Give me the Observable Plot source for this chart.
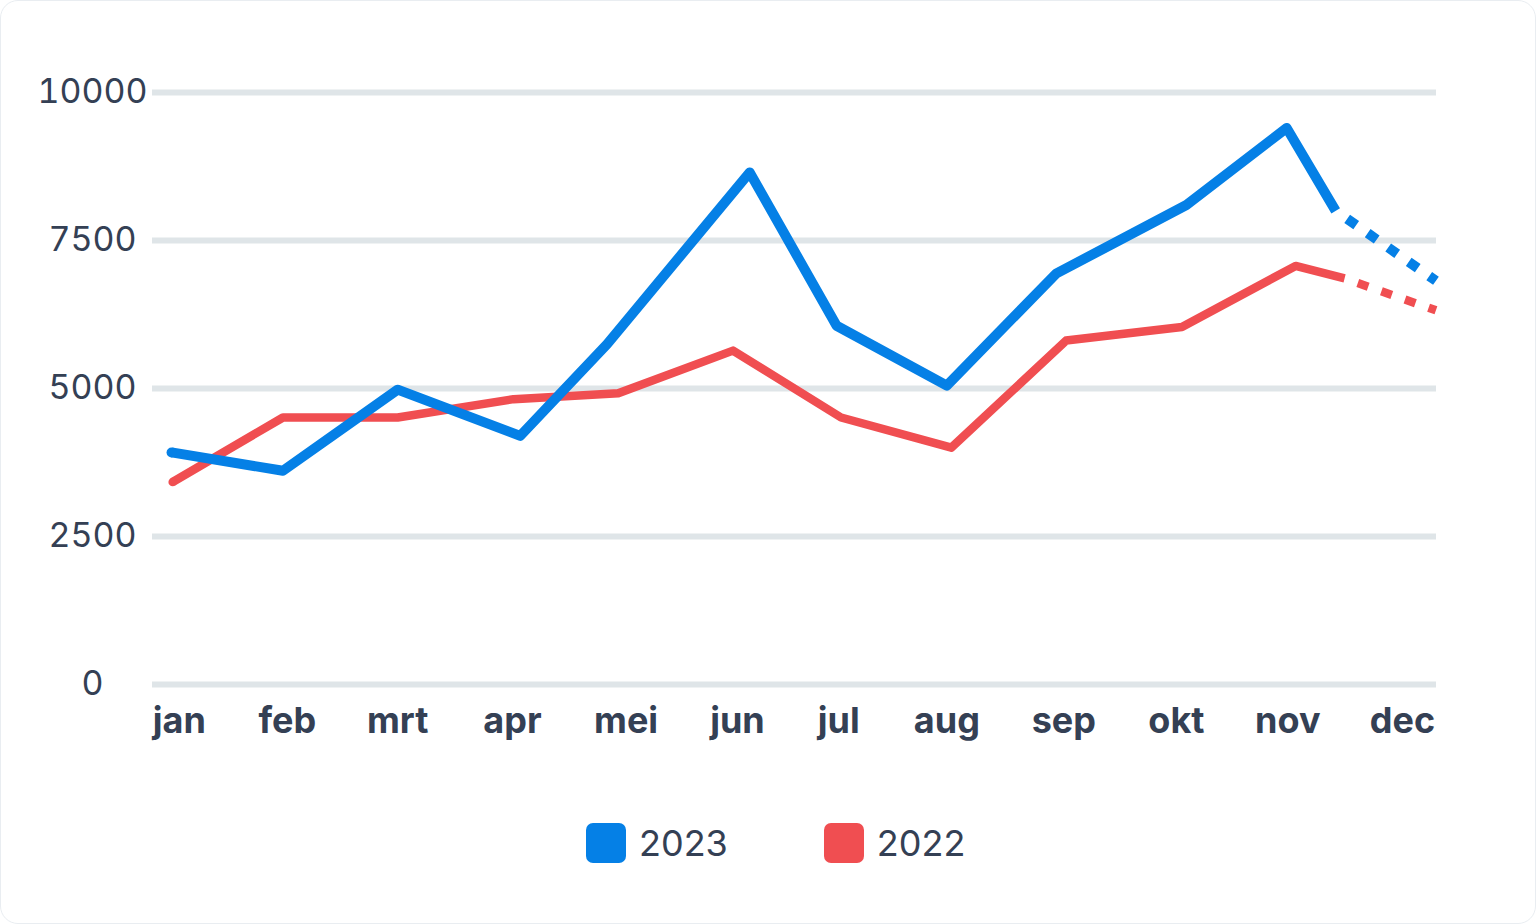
<!DOCTYPE html>
<html>
<head>
<meta charset="utf-8">
<script src="https://cdn.jsdelivr.net/npm/d3@7"></script>
<script src="https://cdn.jsdelivr.net/npm/@observablehq/plot@0.6"></script>
<style>
  html, body { margin: 0; padding: 0; background: #ffffff; }
  #wrap { position: relative; width: 1536px; height: 924px; background: #ffffff; font-family: Inter, "Noto Sans", sans-serif; overflow: hidden; }
  #frame { position: absolute; inset: 0; border: 1px solid #e9edf1; border-radius: 18px; pointer-events: none; }
  #chart { position: absolute; left: 0; top: 0; }
  #legend { position: absolute; top: 823px; left: 586px; display: flex; align-items: center; }
  .item { display: flex; align-items: center; }
  .sw { width: 40px; height: 40px; border-radius: 7px; margin-right: 13px; }
  .lbl { font-size: 36px; color: #344054; line-height: 40px; }
</style>
</head>
<body>
<div id="wrap">
  <div id="chart"></div>
  <div id="legend"></div>
  <div id="frame"></div>
</div>
<script>
// ---- data ----
const months = ["jan", "feb", "mrt", "apr", "mei", "jun", "jul", "aug", "sep", "okt", "nov", "dec"];
// label positions along the x axis (month units), as laid out in the picture
const monthTickPos = [0.01, 0.98, 1.97, 3.00, 4.02, 5.02, 5.93, 6.90, 7.95, 8.96, 9.96, 10.99];
const yTicks = [0, 2500, 5000, 7500, 10000];

const seriesNames = ["2023", "2022"];
const seriesColors = ["#0580e6", "#f04e51"];

// x positions in month units (0 = jan ... 11 = dec)
const pos2023 = [-0.06, 0.94, 1.97, 3.07, 3.85, 5.13, 5.91, 6.90, 7.88, 9.05, 9.95, 10.39, 11.29];
const val2023 = [3920, 3610, 4980, 4200, 5750, 8650, 6060, 5050, 6940, 8100, 9400, 8000, 6820];

const pos2022 = [-0.05, 0.94, 1.97, 3.01, 3.95, 4.98, 5.95, 6.94, 7.97, 9.01, 10.03, 10.47, 11.29];
const val2022 = [3420, 4510, 4510, 4820, 4920, 5640, 4510, 4000, 5810, 6040, 7070, 6860, 6320];

// index where the dotted (projected) part begins
const split2023 = 11;
const split2022 = 11;

// ---- build ----
function rows(pos, val) { return pos.map((p, i) => ({x: p, y: val[i]})); }
const r23 = rows(pos2023, val2023);
const r22 = rows(pos2022, val2022);

const solid23 = r23.slice(0, split2023 + 1), dash23 = r23.slice(split2023);
const solid22 = r22.slice(0, split2022 + 1), dash22 = r22.slice(split2022);

const blue = seriesColors[0], red = seriesColors[1];
const wBlue = 10, wRed = 8.5;

const chart = Plot.plot({
  width: 1536,
  height: 780,
  marginLeft: 152,
  marginRight: 100,
  marginTop: 92,
  marginBottom: 96,
  x: {domain: [-0.231, 11.295]},
  y: {domain: [0, 10000]},
  style: {fontFamily: "Inter, 'Noto Sans', sans-serif", background: "transparent", overflow: "visible"},
  marks: [
    Plot.ruleY(yTicks, {stroke: "#dfe5e8", strokeWidth: 6}),
    Plot.axisY(yTicks, {tickSize: 0, tickPadding: 60, textAnchor: "middle", fontSize: 34, fill: "#344054", label: null, tickFormat: d => String(d)}),
    Plot.axisX(monthTickPos, {tickSize: 0, tickPadding: 23, tickFormat: (d, i) => months[monthTickPos.indexOf(d)], fontSize: 36, fontWeight: 700, fill: "#344054", label: null}),
    // 2022
    Plot.line(solid22, {x: "x", y: "y", stroke: red, strokeWidth: wRed, strokeLinejoin: "round", strokeLinecap: "butt"}),
    Plot.dot(solid22.slice(0, 1), {x: "x", y: "y", r: wRed / 2, fill: red, stroke: null}),
    Plot.line(dash22, {x: "x", y: "y", stroke: red, strokeWidth: wRed, strokeDasharray: "11 14", strokeDashoffset: 11, strokeLinecap: "butt"}),
    // 2023
    Plot.line(solid23, {x: "x", y: "y", stroke: blue, strokeWidth: wBlue, strokeLinejoin: "round", strokeLinecap: "butt"}),
    Plot.dot(solid23.slice(0, 1), {x: "x", y: "y", r: wBlue / 2, fill: blue, stroke: null}),
    Plot.line(dash23, {x: "x", y: "y", stroke: blue, strokeWidth: wBlue, strokeDasharray: "11 14", strokeDashoffset: 11, strokeLinecap: "butt"})
  ]
});
document.getElementById("chart").appendChild(chart);

// legend
const legend = document.getElementById("legend");
seriesNames.forEach((name, i) => {
  const item = document.createElement("div");
  item.className = "item";
  if (i > 0) item.style.marginLeft = "96px";
  const sw = document.createElement("div");
  sw.className = "sw";
  sw.style.background = seriesColors[i];
  const lbl = document.createElement("div");
  lbl.className = "lbl";
  lbl.textContent = name;
  item.appendChild(sw);
  item.appendChild(lbl);
  legend.appendChild(item);
});
</script>
</body>
</html>
